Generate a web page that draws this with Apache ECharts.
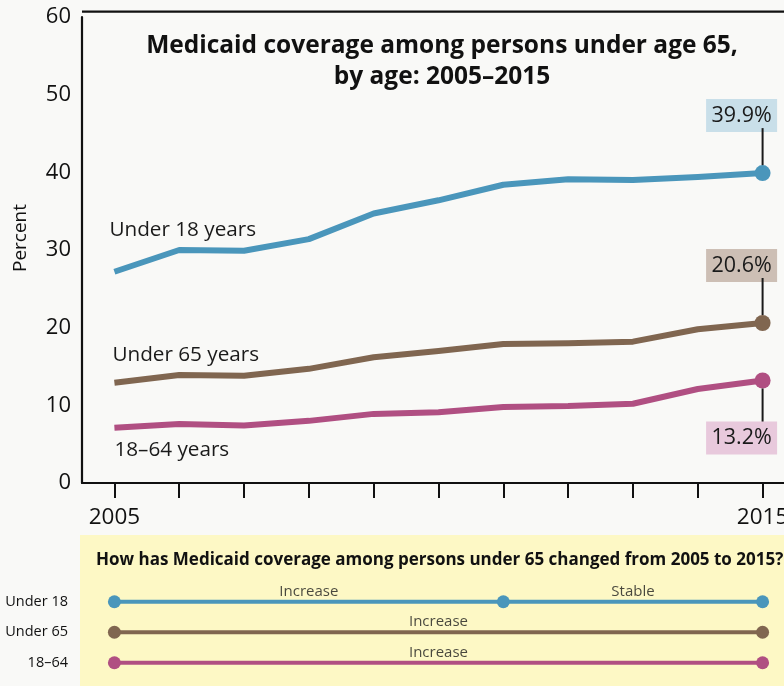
<!DOCTYPE html>
<html>
<head>
<meta charset="utf-8">
<script src="https://cdn.jsdelivr.net/npm/echarts@6/dist/echarts.min.js"></script>
<style>
html,body{margin:0;padding:0;background:#f9f9f7;}
#chart{width:784px;height:686px;}
</style>
</head>
<body>
<div id="chart"></div>
<script>
// ---- data ----
const years = ['2005','2006','2007','2008','2009','2010','2011','2012','2013','2014','2015'];
const xTickLabels = ['2005','2015'];
const yTicks = [0,10,20,30,40,50,60];
const seriesNames = ['Under 18 years','Under 65 years','18–64 years'];
const under18 = [27.2,30.0,29.9,31.4,34.7,36.4,38.4,39.1,39.0,39.4,39.9];
const under65 = [12.9,13.9,13.8,14.7,16.2,17.0,17.9,18.0,18.2,19.8,20.6];
const age18to64 = [7.1,7.6,7.4,8.0,8.9,9.1,9.8,9.9,10.2,12.1,13.2];
const endLabels = ['39.9%','20.6%','13.2%'];
const trendRows = ['Under 18','Under 65','18–64'];
const trendPoints = [['2005','2011','2015'],['2005','2015'],['2005','2015']];
const trendLabels = [['Increase','Stable'],['Increase'],['Increase']];
const mainTitle = 'Medicaid coverage among persons under age 65,\nby age: 2005–2015';
const boxTitle = 'How has Medicaid coverage among persons under 65 changed from 2005 to 2015?';
const yAxisName = 'Percent';

// ---- style ----
const FONT = '"Open Sans", "Noto Sans", sans-serif';
const colors = ['#4a96bb','#806650','#b04f82'];
const boxBg = ['#c9dfe9','#cdbfb5','#e8c9dc'];
const nameLabelPos = [[-5,-42],[-2,-28],[0,22]];
const endLabelUp = [true,true,false];

const values = [under18, under65, age18to64];

function buildLineSeries(k){
  const vals = values[k];
  const data = vals.map((v,i)=>{
    const item = {value: v};
    if(i===0){
      item.label = {show:true, formatter: seriesNames[k], position: nameLabelPos[k],
        align:'left', verticalAlign:'middle', fontSize:20.7, color:'#1a1a1a', fontFamily: FONT};
    }
    if(i===vals.length-1){
      item.symbolSize = 16;
      const up = endLabelUp[k];
      item.label = {show:true, position: up ? 'top':'bottom', distance:0, align:'right',
        offset:[14.5,0],
        formatter: up ? ('{box|'+endLabels[k]+'}\n{stem|}{sp|}') : ('{stem|}{sp|}\n{box|'+endLabels[k]+'}'),
        rich:{
          box:{backgroundColor: boxBg[k], fontSize:21.5, fontFamily: FONT, color:'#1a1a1a',
               width:61, height:25, lineHeight:25, padding:[4,5,4,5], align:'center'},
          stem:{backgroundColor:'#1a1a1a', width:2, height:37},
          sp:{width:13.5, height:37}
        }};
    }
    return item;
  });
  return {
    type:'line', name: seriesNames[k], xAxisIndex:0, yAxisIndex:0,
    data, symbol:'circle', symbolSize:0, showSymbol:true, showAllSymbol:true,
    lineStyle:{color: colors[k], width:6, cap:'butt', join:'round'},
    itemStyle:{color: colors[k]},
    label:{show:false},
    emphasis:{disabled:true}, silent:true, animation:false, z:3
  };
}

const series = [0,1,2].map(buildLineSeries);

// bottom trend panel
trendRows.forEach((row,r)=>{
  series.push({
    type:'line', xAxisIndex:1, yAxisIndex:1,
    data: trendPoints[r].map(y=>[y,row]),
    symbol:'circle', symbolSize:13, showAllSymbol:true,
    lineStyle:{color: colors[r], width:4},
    itemStyle:{color: colors[r]},
    emphasis:{disabled:true}, silent:true, animation:false, z:3
  });
  const labData = trendLabels[r].map((t,i)=>{
    const a = +trendPoints[r][i], b = +trendPoints[r][i+1];
    return {value:[String((a+b)/2), row], name:t};
  });
  series.push({
    type:'scatter', xAxisIndex:1, yAxisIndex:1, data: labData,
    symbolSize:0,
    label:{show:true, position:'top', distance:3, formatter:p=>p.name,
      fontSize:15, fontFamily:FONT, color:'#1a1a1a'},
    emphasis:{disabled:true}, silent:true, animation:false, z:4
  });
});

const chart = echarts.init(document.getElementById('chart'), null, {renderer:'canvas'});
chart.setOption({
  backgroundColor:'#f9f9f7',
  animation:false,
  title:[
    {text: mainTitle, left:437, top:26, textAlign:'center',
     textStyle:{fontFamily:FONT, fontSize:24.5, fontWeight:'bold', color:'#111', lineHeight:31}},
    {text: boxTitle, left:91, top:547,
     textStyle:{fontFamily:FONT, fontSize:17, fontWeight:'bold', color:'#111'}}
  ],
  graphic:{elements:[
    {type:'rect', shape:{x:80, y:535, width:710, height:151}, style:{fill:'#fdf8c5'}, z:-1, silent:true},
    {type:'line', shape:{x1:82, y1:11.7, x2:790, y2:11.7}, style:{stroke:'#111', lineWidth:2.2}, silent:true}
  ]},
  grid:[
    {left:82, right:-11, top:17, bottom:203, outerBoundsMode:'none', containLabel:false},
    {left:82, right:-11, top:586.5, bottom:8, outerBoundsMode:'none', containLabel:false}
  ],
  xAxis:[
    {type:'category', gridIndex:0, data: years, boundaryGap:true,
     axisLine:{show:true, lineStyle:{color:'#111', width:2.2}},
     axisTick:{show:true, alignWithLabel:true, interval:0, length:15, lineStyle:{color:'#111', width:2}},
     axisLabel:{interval:0, margin:23, fontSize:22.5, fontFamily:FONT, color:'#111',
       formatter: v => xTickLabels.indexOf(v) >= 0 ? v : ''},
     splitLine:{show:false}},
    {type:'category', gridIndex:1, data: years, boundaryGap:true, show:false}
  ],
  yAxis:[
    {type:'value', gridIndex:0, min:0, max:60, interval:10,
     name: yAxisName, nameLocation:'middle', nameGap:52, nameRotate:90,
     nameTextStyle:{fontFamily:FONT, fontSize:19, color:'#111', padding:[0,0,0,24]},
     axisLine:{show:true, lineStyle:{color:'#111', width:2.2}},
     axisTick:{show:false},
     axisLabel:{fontSize:22, fontFamily:FONT, color:'#111', margin:11,
       formatter: v => yTicks.indexOf(v) >= 0 ? String(v) : ''},
     splitLine:{show:false}},
    {type:'category', gridIndex:1, data: trendRows, inverse:true, boundaryGap:true,
     axisLine:{show:false}, axisTick:{show:false}, splitLine:{show:false},
     axisLabel:{fontSize:14.5, fontFamily:FONT, color:'#111', margin:14}}
  ],
  series
});
</script>
</body>
</html>
